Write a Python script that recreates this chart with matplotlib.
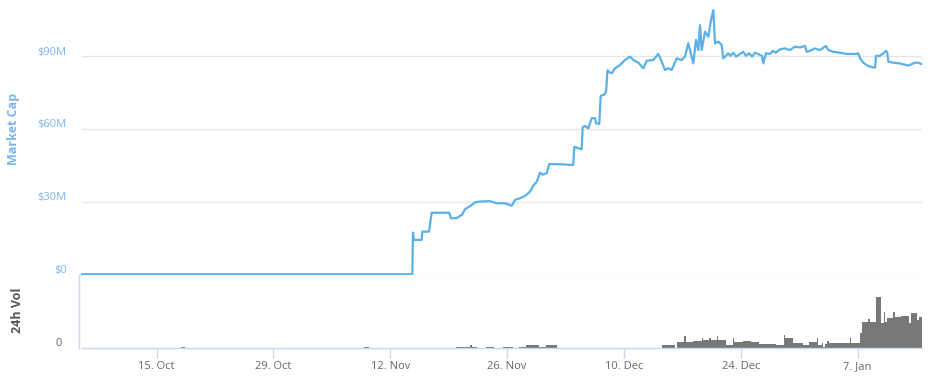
import matplotlib
matplotlib.use("Agg")
import matplotlib.pyplot as plt
import matplotlib.transforms as mtransforms
import numpy as np

# ---------------- data ----------------
# x values: days since 15 Oct 2017
mcap_days = [-8.95, 30.64, 30.72, 30.84, 31.76, 31.84, 32.64, 32.96, 35.07, 35.28,
             35.96, 36.35, 36.59, 36.95, 37.76, 38.15, 38.75, 39.95, 40.75, 41.75,
             42.55, 42.95, 43.55, 44.15, 44.74, 45.14, 45.55, 45.95, 46.27, 46.75,
             47.06, 48.34, 49.93, 50.05, 50.53, 50.94, 51.06, 51.34, 51.73, 52.14,
             52.54, 52.66, 53.05, 53.22, 53.53, 53.74, 53.88, 54.03, 54.33, 54.57,
             54.93, 55.53, 56.13, 56.73, 57.13, 57.73, 58.33, 58.73, 59.52, 60.12,
             60.53, 60.93, 61.32, 61.73, 62.33, 62.93, 63.32, 63.72, 64.01, 64.32,
             64.64, 64.92, 65.12, 65.32, 65.72, 66.12, 66.44, 66.72, 66.92, 67.32,
             67.72, 67.91, 68.14, 68.50, 68.74, 69.10, 69.44, 69.92, 70.28, 70.64,
             71.00, 71.36, 71.71, 72.07, 72.55, 72.71, 73.03, 73.50, 73.86, 74.22,
             74.70, 75.30, 75.90, 76.50, 77.10, 77.70, 77.91, 78.30, 78.90, 79.50,
             80.22, 80.50, 81.10, 81.90, 82.70,
             83.90, 84.09, 84.30, 84.69, 85.29, 86.10, 86.22, 86.70, 87.09, 87.42,
             87.57, 87.69, 88.29, 89.09, 90.09, 90.89, 91.29, 91.61]
# market cap, $M
mcap_values = [0.0, 0.0, 17.2, 14.2, 14.2, 17.6, 17.6, 25.4, 25.4, 23.1,
               23.2, 24.1, 24.5, 26.8, 28.6, 29.7, 30.0, 30.2, 29.3, 29.3,
               28.3, 30.7, 31.4, 32.3, 34.1, 36.6, 38.2, 41.9, 41.1, 41.7,
               45.5, 45.4, 45.1, 52.6, 52.0, 51.6, 60.6, 61.2, 60.2, 64.4,
               64.4, 62.3, 62.0, 73.6, 74.0, 74.4, 76.0, 84.1, 83.2, 83.0,
               85.0, 86.3, 88.4, 89.8, 88.4, 87.3, 85.0, 88.1, 88.4, 90.9,
               87.7, 84.3, 85.0, 84.3, 89.1, 88.4, 89.8, 95.3, 91.2, 87.0,
               96.7, 92.5, 102.8, 92.5, 100.1, 98.0, 104.9, 109.0, 95.3, 96.0,
               94.6, 89.1, 89.8, 91.2, 90.1, 91.4, 89.8, 90.9, 91.8, 90.1,
               91.2, 89.8, 91.4, 90.9, 90.1, 87.0, 91.2, 90.9, 92.2, 91.4,
               92.8, 93.2, 92.5, 93.9, 93.6, 94.2, 91.8, 92.2, 93.2, 92.5,
               94.2, 92.5, 91.8, 91.4, 90.9,
               90.9, 91.2, 89.1, 87.3, 85.9, 85.2, 90.1, 90.1, 91.2, 92.2,
               91.4, 87.7, 87.3, 87.0, 86.1, 87.3, 87.3, 86.8]

# 24h volume, $K : interval start day, end day, value
vol_start = [2.36, 2.92, 3.44, 17.18, 18.12, 24.50, 24.84, 25.40, 32.54, 33.74,
             35.89, 36.40, 37.47, 37.60, 37.77, 39.48, 41.53, 43.46, 44.31, 45.81,
             46.67, 47.96,
             60.57, 62.33, 63.24, 63.41, 64.32, 65.32, 65.52, 66.23, 66.40, 67.12,
             67.28, 68.24, 69.11, 69.23, 70.31, 71.20, 72.23, 74.23, 75.19, 75.31,
             76.30, 77.50, 78.22, 79.11, 79.23, 79.71, 79.90, 80.10, 80.38, 80.62,
             83.10, 83.22, 84.30, 84.50, 85.29, 85.50, 86.22, 86.78, 87.18, 87.30,
             87.50, 88.29, 88.50, 89.21, 90.21, 90.38, 91.17, 91.41]
vol_end = [2.92, 3.44, 3.86, 17.86, 19.06, 24.84, 25.40, 25.70, 32.97, 34.26,
           36.40, 37.47, 37.60, 37.77, 38.45, 40.38, 42.69, 44.31, 45.81, 46.67,
           47.96, 48.39,
           62.12, 63.24, 63.41, 64.32, 65.32, 65.52, 66.23, 66.40, 67.12, 67.28,
           68.24, 69.11, 69.23, 70.31, 71.20, 72.23, 74.23, 75.19, 75.31, 76.30,
           77.50, 78.22, 79.11, 79.23, 79.71, 79.90, 80.10, 80.38, 80.62, 83.10,
           83.22, 84.30, 84.50, 85.29, 85.50, 86.22, 86.78, 87.18, 87.30, 87.50,
           88.29, 88.50, 89.21, 90.21, 90.38, 91.17, 91.41, 91.69]
vol_values = [30, 72, 30, 30, 30, 30, 72, 30, 30, 30,
              44, 72, 44, 116, 44, 40, 40, 40, 116, 72,
              116, 30,
              132, 268, 492, 268, 308, 412, 332, 400, 332, 492,
              332, 132, 412, 268, 308, 268, 172, 120, 532, 400,
              228, 148, 268, 412, 148, 228, 68, 172, 308, 228,
              412, 228, 628, 1068, 1160, 1068, 2068, 1000, 1468, 1068,
              1228, 1468, 1268, 1292, 1000, 1400, 1132, 1268]

mcap_ticks = [0, 30, 60, 90]
mcap_tick_labels = ["$0", "$30M", "$60M", "$90M"]
x_ticks = [0, 14, 28, 42, 56, 70, 84]
x_tick_labels = ["15. Oct", "29. Oct", "12. Nov", "26. Nov", "10. Dec", "24. Dec", "7. Jan"]

# ---------------- style ----------------
FONT = "Open Sans"
LINE_C = "#5ab1e8"
LABEL_C = "#7cb5ec"
AXIS_C = "#ccd6eb"
GRID_C = "#e6e6e6"
TEXT_C = "#666666"

W, H = 932, 380
fig = plt.figure(figsize=(W / 100, H / 100), dpi=100)

def frac_x(px):
    return px / W

def frac_y(py):
    return 1 - py / H

left, right = 82, 922
top_px, zero_px = 5, 274.3
vol_top, vol_bot = 275, 348.3

ax = fig.add_axes([frac_x(left), frac_y(zero_px), frac_x(right - left),
                   (zero_px - top_px) / H])
axv = fig.add_axes([frac_x(left), frac_y(vol_bot), frac_x(right - left),
                    (vol_bot - vol_top) / H], sharex=ax)

xmin, xmax = -8.95, 91.73

# --- market cap ---
ax.plot(mcap_days, mcap_values, color=LINE_C, lw=1.6, clip_on=False, zorder=3,
        solid_joinstyle="round")
ax.set_xlim(xmin, xmax)
ax.set_ylim(0, (zero_px - top_px) / 2.424)
ax.set_yticks(mcap_ticks)
ax.set_yticklabels(mcap_tick_labels)
ax.grid(axis="y", color=GRID_C, lw=1.0)
ax.set_axisbelow(True)
for s in ax.spines.values():
    s.set_visible(False)
ax.tick_params(axis="y", length=0, pad=11, labelsize=8, labelcolor=LABEL_C)
ax.tick_params(axis="x", length=0, labelbottom=False)
off = mtransforms.ScaledTranslation(0, 5.5 / 100, fig.dpi_scale_trans)
for lab in ax.get_yticklabels():
    lab.set_fontfamily(FONT)
    lab.set_transform(lab.get_transform() + off)
ax.set_ylabel("Market Cap", color=LABEL_C, fontsize=9, fontweight="bold",
              fontfamily=FONT)
ax.yaxis.set_label_coords((19.5 - left) / (right - left),
                          (zero_px - 128.5) / (zero_px - top_px))

# --- volume ---
widths = [e - s for s, e in zip(vol_start, vol_end)]
axv.bar(vol_start, vol_values, width=widths, align="edge", color="#777777",
        linewidth=0)
axv.set_ylim(0, 2932)
axv.set_xlim(xmin, xmax)
axv.set_yticks([0])
axv.set_yticklabels(["0"])
for name in ("top", "right"):
    axv.spines[name].set_visible(False)
axv.spines["left"].set_color(AXIS_C)
axv.spines["left"].set_position(("outward", 2.2))
axv.spines["bottom"].set_color(AXIS_C)
axv.spines["left"].set_linewidth(1)
axv.spines["bottom"].set_linewidth(1)
axv.tick_params(axis="y", length=0, pad=12, labelsize=8, labelcolor=TEXT_C)
off2 = mtransforms.ScaledTranslation(0, 6 / 100, fig.dpi_scale_trans)
for lab in axv.get_yticklabels():
    lab.set_fontfamily(FONT)
    lab.set_transform(lab.get_transform() + off2)
axv.set_xticks(x_ticks)
axv.set_xticklabels(x_tick_labels)
axv.tick_params(axis="x", length=7, width=1, color=AXIS_C, pad=2, labelsize=8,
                labelcolor=TEXT_C)
for lab in axv.get_xticklabels():
    lab.set_fontfamily(FONT)
axv.set_ylabel("24h Vol", color="#555555", fontsize=9, fontweight="bold",
               fontfamily=FONT)
axv.yaxis.set_label_coords((24 - left) / (right - left),
                           (vol_bot - 310) / (vol_bot - vol_top))

fig.savefig("out.png", dpi=100, facecolor="white")
